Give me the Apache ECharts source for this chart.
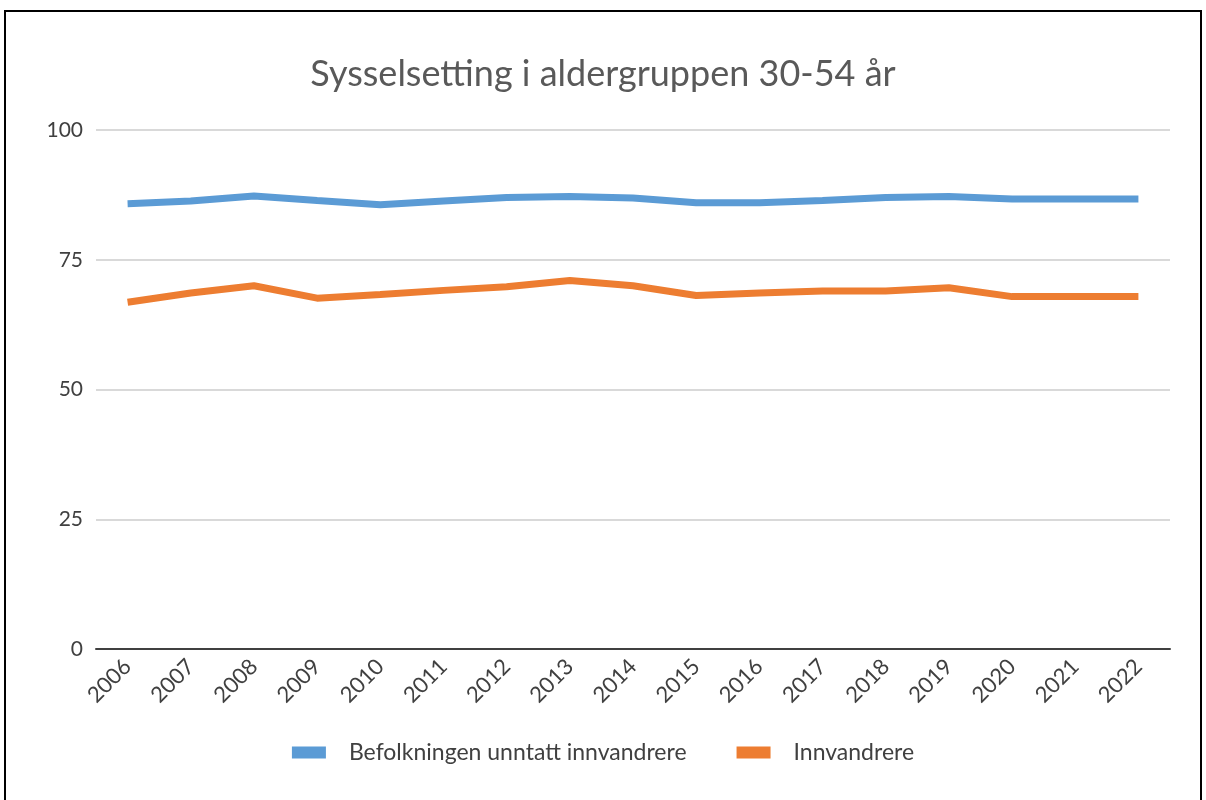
<!DOCTYPE html>
<html><head><meta charset="utf-8">
<script src="https://cdn.jsdelivr.net/npm/echarts@6/dist/echarts.min.js"></script>
<style>
html,body{margin:0;padding:0;background:#fff;}
#frame{position:absolute;left:4px;top:10px;width:1198px;height:800px;border:2px solid #000;box-sizing:border-box;}
#c{position:absolute;left:0;top:0;width:1206px;height:800px;}
</style></head>
<body>
<div id="frame"></div>
<div id="c"></div>
<script>
const years = ['2006','2007','2008','2009','2010','2011','2012','2013','2014','2015','2016','2017','2018','2019','2020','2021','2022'];
const befolkning = [85.8,86.3,87.3,86.4,85.6,86.3,87.0,87.2,86.9,86.0,86.0,86.4,87.0,87.2,86.7,86.7,86.7];
const innvandrere = [66.8,68.6,70.0,67.6,68.3,69.1,69.8,71.0,70.0,68.1,68.6,69.0,69.0,69.6,67.9,67.9,67.9];
const yTicks = [0,25,50,75,100];
const titleText = 'Sysselsetting i aldergruppen 30-54 år';
const seriesNames = ['Befolkningen unntatt innvandrere','Innvandrere'];

const font = 'Lato, "Open Sans", sans-serif';
const chart = echarts.init(document.getElementById('c'));
chart.setOption({
  animation:false,
  title:{text:titleText,left:'center',top:51,textStyle:{fontFamily:font,fontSize:36,fontWeight:'normal',color:'#595959'}},
  grid:{left:96,right:36,top:130,bottom:151,containLabel:false},
  legend:{top:736,left:'center',icon:'rect',itemWidth:34,itemHeight:12,itemGap:50,
    textStyle:{fontFamily:font,fontSize:23,color:'#404040',padding:[0,0,0,18]},
    data:seriesNames},
  xAxis:{type:'category',data:years,boundaryGap:true,
    axisLine:{lineStyle:{color:'#404040',width:2}},axisTick:{show:false},
    axisLabel:{rotate:45,fontFamily:font,fontSize:22,color:'#404040',margin:14}},
  yAxis:{type:'value',min:yTicks[0],max:yTicks[yTicks.length-1],interval:25,
    axisLine:{show:false},axisTick:{show:false},
    axisLabel:{fontFamily:font,fontSize:21,color:'#404040',margin:13},
    splitLine:{lineStyle:{color:'#d9d9d9',width:2}}},
  series:[
    {name:seriesNames[0],type:'line',data:befolkning,symbol:'none',lineStyle:{width:7,color:'#5b9bd5'},itemStyle:{color:'#5b9bd5'}},
    {name:seriesNames[1],type:'line',data:innvandrere,symbol:'none',lineStyle:{width:7,color:'#ed7d31'},itemStyle:{color:'#ed7d31'}}
  ]
});
</script>
</body></html>
